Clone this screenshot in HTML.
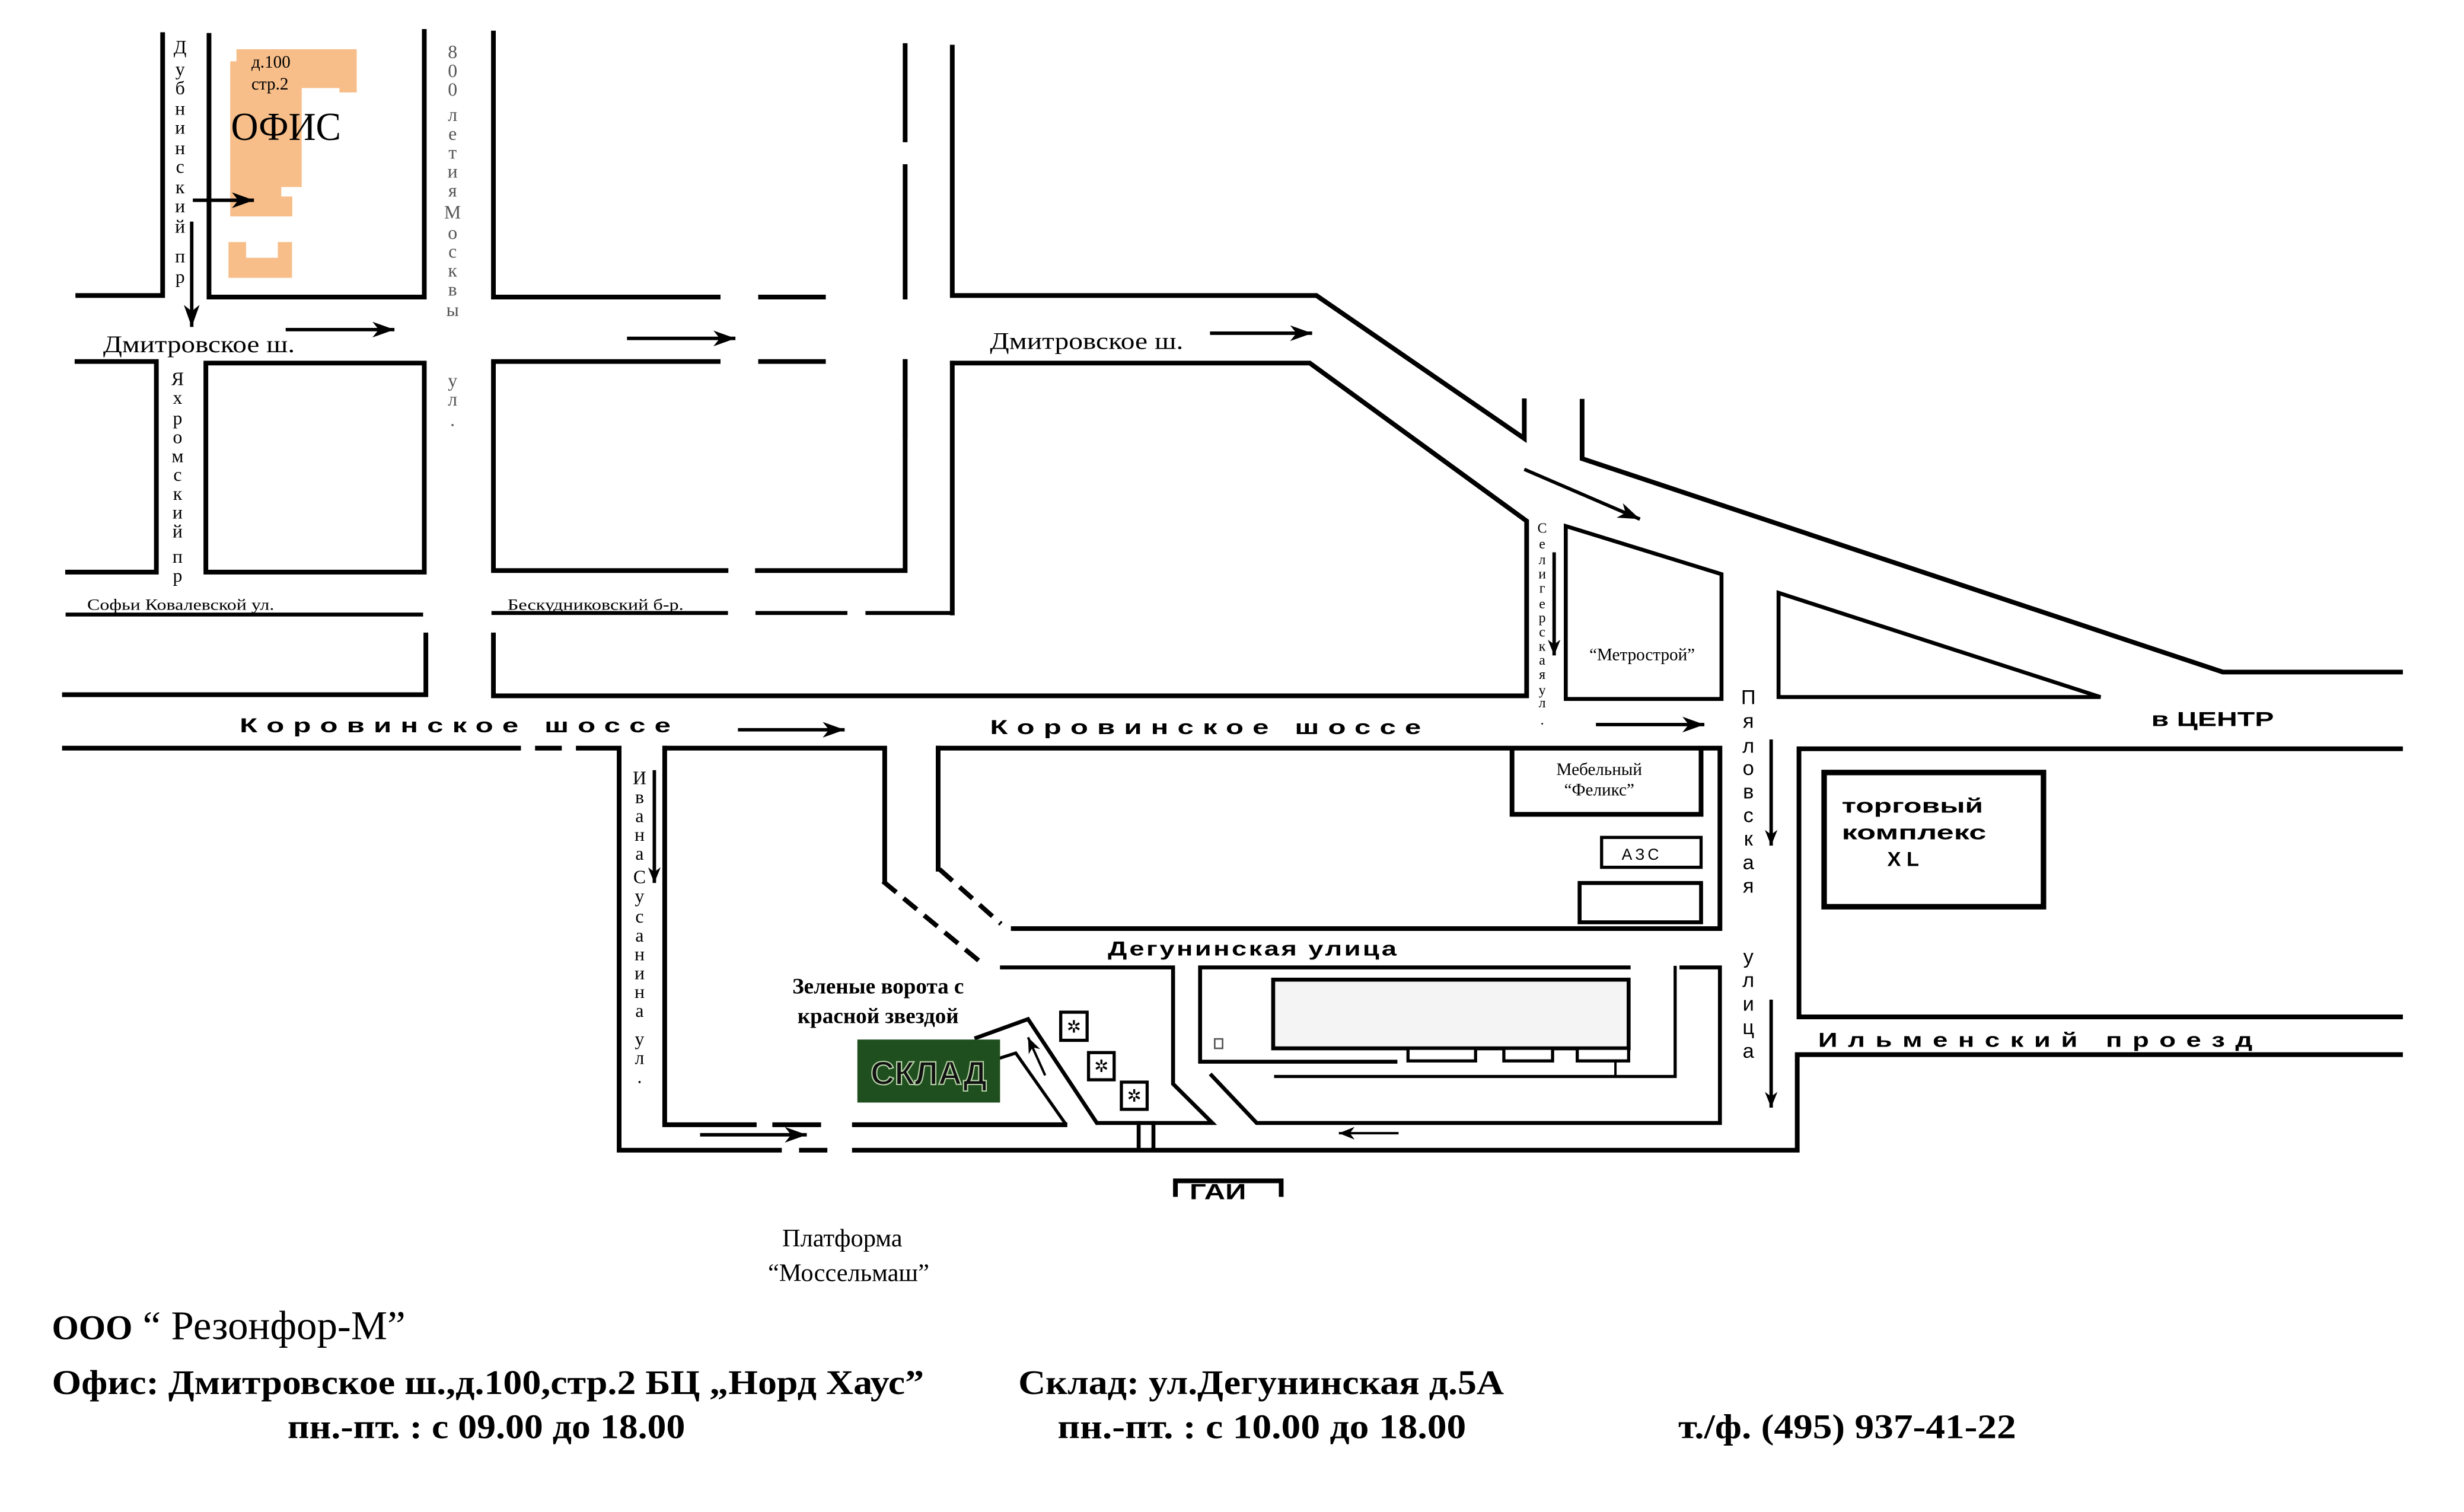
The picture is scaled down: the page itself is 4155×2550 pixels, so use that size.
<!DOCTYPE html>
<html><head><meta charset="utf-8">
<style>
html,body{margin:0;padding:0;background:#fff;}
svg{display:block;}
.s{font-family:"Liberation Serif","Noto Serif CJK SC",serif;}
.a{font-family:"Liberation Sans","Noto Sans CJK SC",sans-serif;}
</style></head><body>
<svg width="4155" height="2550" viewBox="0 0 1568 962" preserveAspectRatio="none" xmlns="http://www.w3.org/2000/svg">
<defs>
<marker id="ar" markerUnits="userSpaceOnUse" markerWidth="16" markerHeight="10" refX="14" refY="5" orient="auto">
<path d="M0,0 L14,5 L0,10 L4,5 Z" fill="#000"/>
</marker>
<marker id="ars" markerUnits="userSpaceOnUse" markerWidth="12" markerHeight="8" refX="10" refY="4" orient="auto">
<path d="M0,0 L10,4 L0,8 L3,4 Z" fill="#000"/>
</marker>
</defs>
<rect width="1568" height="962" fill="#fff"/>

<path d="M150.5,31.3 L227,31.3 L227,58.8 L216,58.8 L216,56 L192,56 L192,119 L179,119 L179,125 L186,125 L186,137.7 L146.5,137.7 L146.5,39 L150.5,39 Z" fill="#f7be8a"/>
<path d="M145.4,154 L156.6,154 L156.6,164 L176.8,164 L176.8,154 L185.8,154 L185.8,176.8 L145.4,176.8 Z" fill="#f7be8a"/>
<text class="s" x="160" y="43" font-size="11">д.100</text>
<text class="s" x="160" y="57" font-size="11">стр.2</text>
<text class="s" x="147" y="89" font-size="25" textLength="70" lengthAdjust="spacingAndGlyphs">ОФИС</text>

<g stroke="#000" stroke-width="3" fill="none" stroke-linecap="square">
<path d="M49.5,188 H103.5 V22"/>
<path d="M133,22.5 V189 H270 V20"/>
<path d="M314,21 V189 H457 M484,189 H524"/>
<path d="M576,29 V89 M576,106 V189"/>
<path d="M606,30 V188 H837.7 L970,279 V255"/>
<path d="M49,230 H99.5 V364 H43"/>
<path d="M131,231 V364 H270 V231 Z"/>
<path d="M314,230 V363 H462 M482,363 H576 V230 M314,230 H457 M484,230 H524"/>
<path d="M576,278 V230"/>
<path d="M606,231 H833.5 L971.5,331.5 V442.7 H314 V404"/>
<path d="M606,231 V390"/>
<path d="M43,391 H268" stroke-width="2.5"/>
<path d="M314,390 H462 M482,390 H538 M552,390 H606" stroke-width="2.5"/>
<path d="M271,404 V442 H41"/>
<path d="M1006.8,255.3 V291.8 L1414.5,427.6 H1527.6"/>
<path d="M41,476 H330 M342,476 H356 M368,476 H394 V731.8 H496 M510,731.8 H525 M543.7,731.8 H1143.7 V671 H1527.6"/>
<path d="M423,476 V715.6 H480 M493,715.6 H521 M543.7,715.6 H677.7"/>
<path d="M423,476 H563 V560.7"/>
<path d="M597,476 H1094.5 V590.8 H644.8"/>
<path d="M597,476 V553"/>
<path d="M1144.8,647 V476.4 H1527.6 M1144.8,647 H1527.6"/>
<path d="M996.4,334.7 V444.7 H1095.5 V365.3 Z" stroke-width="2.5"/>
<path d="M1131.8,377.2 V443.5 H1336.7 Z" stroke-width="2.5"/>
<path d="M962.2,476.4 V518.1 H1082.5 V476.4"/>
<rect x="1019.2" y="532.8" width="63.3" height="19" stroke-width="2"/>
<rect x="1005.2" y="561.8" width="77.3" height="25" stroke-width="2.5"/>
<rect x="1160.8" y="491.5" width="139.6" height="85.4" stroke-width="3.5"/>
<path d="M637.6,615.5 H746.5 V689.6 L771.5,714.5 H698 L654.2,648.4 L621.3,660.3" stroke-width="2.5"/>
<path d="M637,673 L646.4,670 L677.7,714.5" stroke-width="2"/>
<path d="M654.2,648.4 L698,714.5" stroke-width="2"/>
<path d="M763.7,615.5 V675.5 H888 M1036.4,615.5 H763.7" stroke-width="2.5"/>
<path d="M1066,615.5 V684.9 H811.8" stroke-width="2"/>
<path d="M771,684.2 L799.7,714.5 H1094.5 V615.5 H1070" stroke-width="2.5"/>
<path d="M724.6,714.5 V731.8 M734,714.5 V731.8" stroke-width="2.5"/>
<path d="M748,760 V751.3 H815.3 V760" stroke-width="3"/>
</g>
<g stroke="#000" stroke-width="3" fill="none" stroke-dasharray="11,6">
<path d="M561.9,560.7 L626,613.8"/>
<path d="M597.9,553.1 L637,587.8"/>
</g>
<rect x="810.2" y="623.3" width="226.2" height="43.7" fill="#f4f4f4" stroke="#000" stroke-width="2.5"/>
<g fill="#fff" stroke="#000" stroke-width="2">
<rect x="896" y="667" width="43" height="8"/>
<rect x="957" y="667" width="31" height="8"/>
<rect x="1003.7" y="667" width="32.7" height="8"/>
</g>
<line x1="1028" y1="675" x2="1028" y2="684.9" stroke="#000" stroke-width="1.5"/>

<g stroke="#000" stroke-width="2.2" fill="none">
<line x1="122.7" y1="127.4" x2="161.6" y2="127.4" marker-end="url(#ar)"/>
<line x1="122" y1="141" x2="122" y2="208" marker-end="url(#ar)"/>
<line x1="181.8" y1="209.7" x2="251" y2="209.7" marker-end="url(#ar)"/>
<line x1="399" y1="215.3" x2="468" y2="215.3" marker-end="url(#ar)"/>
<line x1="770" y1="212" x2="835" y2="212" marker-end="url(#ar)"/>
<line x1="970" y1="298.6" x2="1043.6" y2="330.3" marker-end="url(#ar)"/>
<line x1="989" y1="351.4" x2="989" y2="417" marker-end="url(#ars)"/>
<line x1="469.6" y1="464.3" x2="537.5" y2="464.3" marker-end="url(#ar)"/>
<line x1="1015.6" y1="461" x2="1084.6" y2="461" marker-end="url(#ar)"/>
<line x1="1127.1" y1="470.5" x2="1127.1" y2="538" marker-end="url(#ars)"/>
<line x1="1127.1" y1="636" x2="1127.1" y2="704.7" marker-end="url(#ars)"/>
<line x1="416.4" y1="490" x2="416.4" y2="561.8" marker-end="url(#ars)"/>
<line x1="445.5" y1="722" x2="513.4" y2="722" marker-end="url(#ar)"/>
<line x1="665.1" y1="684.2" x2="654.2" y2="660" marker-end="url(#ars)" stroke-width="1.5"/>
<line x1="890" y1="721" x2="852" y2="721" marker-end="url(#ars)" stroke-width="1.5"/>
</g>

<g stroke="#000" fill="#fff">
<rect x="675" y="644" width="16.8" height="17.9" stroke-width="2"/>
<rect x="692.7" y="669.7" width="16.3" height="17.3" stroke-width="2"/>
<rect x="713.6" y="688.5" width="16.4" height="17.3" stroke-width="2"/>
</g>
<g class="a" font-size="11" text-anchor="middle" fill="#000">
<text x="683.4" y="657">✲</text><text x="700.9" y="682">✲</text><text x="721.8" y="701">✲</text>
</g>
<rect x="773" y="661" width="5" height="6" fill="#fff" stroke="#555" stroke-width="1"/>

<line x1="621.3" y1="660.3" x2="654.2" y2="648.4" stroke="#000" stroke-width="1.5"/>
<rect x="545.6" y="661.4" width="90.8" height="40.1" fill="#1f4e1f"/>
<text class="a" x="591" y="690" font-size="21" font-weight="bold" text-anchor="middle" fill="#111" stroke="#b8d4a8" stroke-width="0.8" textLength="74" lengthAdjust="spacingAndGlyphs">СКЛАД</text>
<text class="s" x="558.8" y="632" font-size="14" font-weight="bold" text-anchor="middle">Зеленые ворота с</text>
<text class="s" x="558.8" y="651" font-size="14" font-weight="bold" text-anchor="middle">красной звездой</text>

<text class="s" x="65.6" y="224" font-size="15" textLength="122" lengthAdjust="spacingAndGlyphs">Дмитровское ш.</text>
<text class="s" x="630" y="222" font-size="15" textLength="123" lengthAdjust="spacingAndGlyphs">Дмитровское ш.</text>
<text class="s" x="55.5" y="388" font-size="10" textLength="119" lengthAdjust="spacingAndGlyphs">Софьи Ковалевской ул.</text>
<text class="s" x="323" y="388" font-size="10" textLength="112" lengthAdjust="spacingAndGlyphs">Бескудниковский б-р.</text>
<g class="a" font-weight="bold" font-size="13" lengthAdjust="spacingAndGlyphs">
<text x="152.5" y="466" textLength="280" lengthAdjust="spacingAndGlyphs" letter-spacing="4">Коровинское шоссе</text>
<text x="630" y="467" textLength="280" lengthAdjust="spacingAndGlyphs" letter-spacing="4">Коровинское шоссе</text>
<text x="705" y="608" textLength="185" lengthAdjust="spacingAndGlyphs" letter-spacing="1">Дегунинская улица</text>
<text x="1157" y="666" textLength="283" lengthAdjust="spacingAndGlyphs" letter-spacing="5">Ильменский проезд</text>
<text x="1369" y="462" textLength="78" lengthAdjust="spacingAndGlyphs">в ЦЕНТР</text>
<text x="1172" y="517" textLength="90" lengthAdjust="spacingAndGlyphs">торговый</text>
<text x="1172" y="534" textLength="92" lengthAdjust="spacingAndGlyphs">комплекс</text>
<text x="1201" y="551">X L</text>
<text x="757" y="763" font-size="14" textLength="36" lengthAdjust="spacingAndGlyphs">ГАИ</text>
</g>
<text class="s" x="1045" y="420" font-size="11" text-anchor="middle">“Метрострой”</text>
<text class="s" x="1017.7" y="493" font-size="11" text-anchor="middle">Мебельный</text>
<text class="s" x="1017.7" y="506" font-size="11" text-anchor="middle">“Феликс”</text>
<text class="a" x="1032" y="547" font-size="10" letter-spacing="2">АЗС</text>

<g class="s" font-size="12" text-anchor="middle">
<text x="114.6"><tspan x="114.6" y="34">Д</tspan><tspan x="114.6" y="48">у</tspan><tspan x="114.6" y="60">б</tspan><tspan x="114.6" y="73">н</tspan><tspan x="114.6" y="85">и</tspan><tspan x="114.6" y="98">н</tspan><tspan x="114.6" y="110">с</tspan><tspan x="114.6" y="123">к</tspan><tspan x="114.6" y="135">и</tspan><tspan x="114.6" y="148">й</tspan><tspan x="114.6" y="167">п</tspan><tspan x="114.6" y="180">р</tspan></text>
<text x="113"><tspan x="113" y="245">Я</tspan><tspan x="113" y="257">х</tspan><tspan x="113" y="270">р</tspan><tspan x="113" y="282">о</tspan><tspan x="113" y="294">м</tspan><tspan x="113" y="306">с</tspan><tspan x="113" y="318">к</tspan><tspan x="113" y="330">и</tspan><tspan x="113" y="342">й</tspan><tspan x="113" y="358">п</tspan><tspan x="113" y="370">р</tspan></text>
<text x="288" fill="#555"><tspan x="288" y="37">8</tspan><tspan x="288" y="49">0</tspan><tspan x="288" y="61">0</tspan><tspan x="288" y="77">л</tspan><tspan x="288" y="89">е</tspan><tspan x="288" y="101">т</tspan><tspan x="288" y="113">и</tspan><tspan x="288" y="125">я</tspan><tspan x="288" y="139">М</tspan><tspan x="288" y="152">о</tspan><tspan x="288" y="164">с</tspan><tspan x="288" y="176">к</tspan><tspan x="288" y="188">в</tspan><tspan x="288" y="201">ы</tspan><tspan x="288" y="246">у</tspan><tspan x="288" y="258">л</tspan><tspan x="288" y="271">.</tspan></text>
<text x="407"><tspan x="407" y="499">И</tspan><tspan x="407" y="511">в</tspan><tspan x="407" y="523">а</tspan><tspan x="407" y="535">н</tspan><tspan x="407" y="547">а</tspan><tspan x="407" y="562">С</tspan><tspan x="407" y="574">у</tspan><tspan x="407" y="587">с</tspan><tspan x="407" y="599">а</tspan><tspan x="407" y="611">н</tspan><tspan x="407" y="623">и</tspan><tspan x="407" y="635">н</tspan><tspan x="407" y="647">а</tspan><tspan x="407" y="665">у</tspan><tspan x="407" y="677">л</tspan><tspan x="407" y="689">.</tspan></text>
</g>
<g class="s" font-size="9" text-anchor="middle">
<text x="981.4"><tspan x="981.4" y="339">С</tspan><tspan x="981.4" y="349">е</tspan><tspan x="981.4" y="359">л</tspan><tspan x="981.4" y="368">и</tspan><tspan x="981.4" y="377">г</tspan><tspan x="981.4" y="387">е</tspan><tspan x="981.4" y="396">р</tspan><tspan x="981.4" y="405">с</tspan><tspan x="981.4" y="414">к</tspan><tspan x="981.4" y="423">а</tspan><tspan x="981.4" y="432">я</tspan><tspan x="981.4" y="442">у</tspan><tspan x="981.4" y="450">л</tspan><tspan x="981.4" y="461">.</tspan></text>
</g>
<g class="a" font-size="13" text-anchor="middle">
<text x="1112.6"><tspan x="1112.6" y="448">П</tspan><tspan x="1112.6" y="463">я</tspan><tspan x="1112.6" y="479">л</tspan><tspan x="1112.6" y="493">о</tspan><tspan x="1112.6" y="508">в</tspan><tspan x="1112.6" y="523">с</tspan><tspan x="1112.6" y="538">к</tspan><tspan x="1112.6" y="553">а</tspan><tspan x="1112.6" y="568">я</tspan><tspan x="1112.6" y="613">у</tspan><tspan x="1112.6" y="628">л</tspan><tspan x="1112.6" y="643">и</tspan><tspan x="1112.6" y="658">ц</tspan><tspan x="1112.6" y="673">а</tspan></text>
</g>

<text class="s" x="536" y="793" font-size="16" text-anchor="middle">Платформа</text>
<text class="s" x="540" y="815" font-size="16" text-anchor="middle">“Моссельмаш”</text>

<text class="s" x="33" y="852" font-size="26"><tspan font-size="22" font-weight="bold">ООО</tspan> “ Резонфор-М”</text>
<text class="s" x="33" y="887" font-size="22" font-weight="bold" textLength="555" lengthAdjust="spacingAndGlyphs">Офис: Дмитровское ш.,д.100,стр.2 БЦ „Норд Хаус”</text>
<text class="s" x="183" y="915" font-size="22" font-weight="bold" textLength="253" lengthAdjust="spacingAndGlyphs">пн.-пт. : с 09.00 до 18.00</text>
<text class="s" x="648" y="887" font-size="22" font-weight="bold" textLength="309" lengthAdjust="spacingAndGlyphs">Склад: ул.Дегунинская д.5А</text>
<text class="s" x="673" y="915" font-size="22" font-weight="bold" textLength="260" lengthAdjust="spacingAndGlyphs">пн.-пт.  : с 10.00 до 18.00</text>
<text class="s" x="1068" y="915" font-size="22" font-weight="bold" textLength="215" lengthAdjust="spacingAndGlyphs">т./ф.  (495) 937-41-22</text>
</svg>
</body></html>
